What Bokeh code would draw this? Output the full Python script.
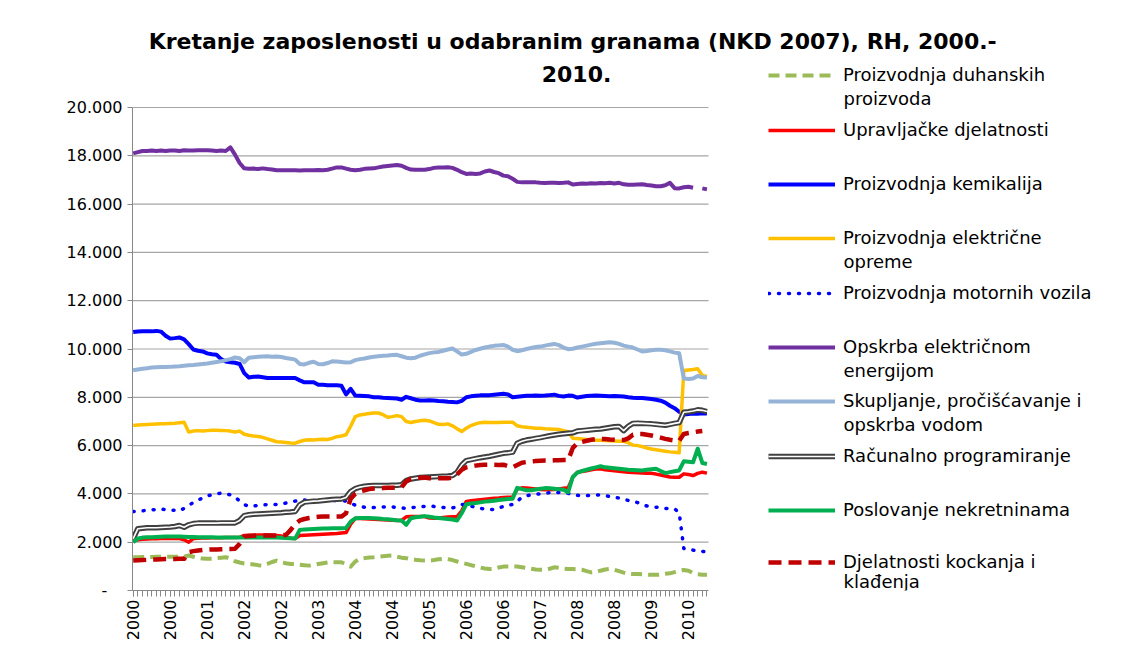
import math
import pandas as pd
from bokeh.plotting import figure
from bokeh.models import Range1d, FixedTicker, Legend, LegendItem, Label
from bokeh.embed import file_html
from bokeh.resources import INLINE

nan = float("nan")

# ---------------- data ----------------
months = pd.date_range("2000-01-01", periods=125, freq="MS")
x_idx = list(range(len(months)))
tick_pos = x_idx[::8]
tick_labels = {i: str(months[i].year) for i in tick_pos}

y_ticks = [0, 2000, 4000, 6000, 8000, 10000, 12000, 14000, 16000, 18000, 20000]
y_tick_labels = ["-\u00a0\u00a0\u00a0", "2.000", "4.000", "6.000", "8.000", "10.000",
                 "12.000", "14.000", "16.000", "18.000", "20.000"]

duhan = [1380, 1380, 1390, 1390, 1390, 1400, 1400, 1400, 1400, 1400,
         1400, 1400, 1450, 1400, 1350, 1320, 1310, 1320, 1340, 1360,
         1380, 1320, 1210, 1160, 1120, 1100, 1080, 1050, 1030, 1100,
         1180, 1240, 1170, 1130, 1100, 1100, 1070, 1050, 1030, 1060,
         1100, 1130, 1160, 1170, 1170, 1170, 1080, 990, 1200, 1310,
         1340, 1370, 1380, 1400, 1420, 1440, 1450, 1400, 1360, 1340,
         1300, 1270, 1250, 1240, 1240, 1260, 1290, 1310, 1300, 1260,
         1200, 1150, 1100, 1050, 1000, 950, 910, 890, 900, 950,
         990, 990, 990, 990, 960, 930, 900, 870, 860, 850,
         900, 960, 940, 910, 890, 890, 880, 860, 800, 750,
         760, 820, 870, 890, 860, 800, 740, 690, 680, 680,
         670, 660, 650, 650, 660, 690, 710, 760, 820, 850,
         820, 720, 670, 650, 650]

upravlj = [2070, 2100, 2120, 2130, 2140, 2140, 2150, 2150, 2150, 2150,
           2150, 2100, 2000, 2150, 2160, 2170, 2170, 2180, 2180, 2180,
           2190, 2190, 2190, 2200, 2280, 2290, 2290, 2300, 2300, 2300,
           2290, 2280, 2260, 2200, 2160, 2150, 2280, 2290, 2300, 2310,
           2320, 2330, 2340, 2350, 2360, 2380, 2400, 2750, 2990, 2980,
           2970, 2960, 2950, 2940, 2930, 2920, 2910, 2900, 2900, 3050,
           3060, 3060, 3060, 3060, 3000, 2990, 3000, 3020, 3040, 3050,
           3060, 3300, 3690, 3720, 3740, 3760, 3780, 3800, 3820, 3830,
           3850, 3860, 3870, 4200, 4250, 4240, 4220, 4200, 4180, 4170,
           4170, 4180, 4200, 4230, 4250, 4690, 4900, 4930, 4960, 5000,
           5030, 5040, 5000, 4980, 4960, 4940, 4920, 4900, 4890, 4880,
           4870, 4860, 4850, 4820, 4780, 4740, 4700, 4690, 4690, 4830,
           4800, 4760, 4850, 4900, 4860]

kemikal = [10700, 10720, 10730, 10730, 10730, 10750, 10720, 10550, 10430, 10450,
           10480, 10400, 10200, 9980, 9930, 9900, 9820, 9780, 9760, 9580,
           9480, 9450, 9430, 9380, 9000, 8820, 8850, 8860, 8830, 8800,
           8800, 8800, 8800, 8800, 8800, 8800, 8700, 8620, 8620, 8620,
           8520, 8520, 8500, 8500, 8500, 8480, 8120, 8350, 8070, 8060,
           8050, 8040, 8000, 8000, 7980, 7970, 7960, 7950, 7900, 8020,
           7960, 7900, 7870, 7870, 7880, 7870, 7850, 7840, 7820, 7810,
           7790, 7850, 8000, 8040, 8060, 8080, 8090, 8090, 8110, 8130,
           8150, 8120, 8000, 8020, 8040, 8060, 8060, 8070, 8060, 8070,
           8090, 8110, 8060, 8030, 8070, 8060, 7990, 8020, 8050, 8060,
           8070, 8060, 8050, 8040, 8050, 8040, 8030, 8000, 7980, 7970,
           7970, 7950, 7930, 7900, 7860, 7780, 7650, 7550, 7400, 7290,
           7310, 7330, 7320, 7340, 7330]

elektr = [6830, 6850, 6860, 6870, 6880, 6890, 6900, 6900, 6920, 6930,
          6950, 6970, 6560, 6600, 6620, 6600, 6620, 6640, 6640, 6630,
          6620, 6600, 6560, 6600, 6470, 6430, 6400, 6380, 6340, 6280,
          6220, 6160, 6150, 6130, 6110, 6100, 6170, 6220, 6240, 6230,
          6250, 6260, 6250, 6300, 6370, 6400, 6450, 6800, 7200, 7270,
          7300, 7330, 7350, 7350, 7280, 7170, 7200, 7240, 7200, 7000,
          6960, 7000, 7030, 7050, 7020, 6950, 6880, 6870, 6900, 6820,
          6700, 6580, 6720, 6830, 6900, 6950, 6970, 6960, 6960, 6960,
          6970, 6970, 6970, 6820, 6780, 6760, 6740, 6720, 6720, 6700,
          6690, 6680, 6670, 6620, 6580, 6300, 6290, 6270, 6250, 6230,
          6220, 6220, 6210, 6200, 6190, 6180, 6180, 6120, 6020, 6000,
          5960, 5900, 5860, 5830, 5800, 5770, 5740, 5720, 5700, 9110,
          9130, 9150, 9180, 8900, 8860]

motor = [3270, 3280, 3300, 3320, 3340, 3350, 3370, 3350, 3330, 3320,
         3300, 3400, 3520, 3650, 3740, 3830, 3920, 3960, 4000, 4030,
         4000, 3960, 3880, 3700, 3560, 3480, 3500, 3520, 3540, 3560,
         3560, 3560, 3580, 3620, 3660, 3700, 3740, 3750, 3720, 3700,
         3690, 3700, 3710, 3720, 3730, 3730, 3700, 3620, 3530, 3480,
         3450, 3420, 3440, 3450, 3460, 3470, 3460, 3440, 3420, 3400,
         3420, 3450, 3470, 3480, 3500, 3480, 3460, 3440, 3420, 3420,
         3460, 3560, 3560, 3500, 3440, 3400, 3370, 3350, 3350, 3420,
         3480, 3540, 3560, 3700, 3860, 3920, 3960, 3990, 4000, 4030,
         4050, 4070, 4060, 4040, 4020, 4000, 3940, 3930, 3930, 3940,
         3950, 3950, 3930, 3890, 3860, 3830, 3780, 3730, 3700, 3640,
         3560, 3500, 3470, 3450, 3420, 3400, 3390, 3380, 3230, 1740,
         1700, 1670, 1650, 1620, 1600]

opskrba_el = [18100, 18150, 18200, 18200, 18220, 18200, 18220, 18200, 18220, 18220,
              18200, 18230, 18220, 18220, 18230, 18230, 18230, 18220, 18200, 18220,
              18200, 18350, 18050, 17700, 17480, 17460, 17470, 17450, 17480, 17450,
              17430, 17400, 17400, 17400, 17400, 17400, 17390, 17400, 17400, 17400,
              17410, 17400, 17420, 17470, 17520, 17520, 17470, 17420, 17400, 17420,
              17460, 17470, 17480, 17520, 17560, 17580, 17600, 17620, 17590, 17500,
              17430, 17420, 17420, 17420, 17450, 17500, 17520, 17520, 17530, 17500,
              17420, 17320, 17250, 17270, 17250, 17270, 17350, 17390, 17330, 17280,
              17180, 17150, 17050, 16920, 16900, 16900, 16900, 16900, 16880, 16870,
              16880, 16880, 16870, 16880, 16900, 16810, 16830, 16850, 16840, 16860,
              16850, 16870, 16860, 16880, 16850, 16880, 16820, 16800, 16800, 16810,
              16820, 16790, 16770, 16740, 16740, 16780, 16880, 16660, 16650, 16700,
              16720, 16680, nan, 16650, 16610]

voda = [9120, 9150, 9180, 9200, 9230, 9240, 9250, 9250, 9260, 9280,
        9290, 9310, 9330, 9340, 9360, 9380, 9400, 9430, 9460, 9490,
        9540, 9580, 9650, 9620, 9450, 9640, 9660, 9680, 9690, 9700,
        9680, 9690, 9670, 9630, 9600, 9560, 9380, 9360, 9430, 9470,
        9380, 9370, 9420, 9490, 9480, 9460, 9440, 9450, 9540, 9580,
        9610, 9650, 9680, 9700, 9720, 9730, 9750, 9760, 9700, 9640,
        9620, 9640, 9720, 9780, 9830, 9860, 9880, 9930, 9980, 10020,
        9900, 9770, 9800, 9880, 9960, 10010, 10060, 10100, 10130, 10150,
        10170, 10100, 9970, 9910, 9950, 10000, 10040, 10080, 10100, 10140,
        10180, 10210, 10160, 10060, 9990, 10010, 10060, 10100, 10140, 10180,
        10220, 10240, 10260, 10280, 10260, 10210, 10140, 10100, 10060, 9980,
        9900, 9920, 9950, 9970, 9970, 9950, 9900, 9850, 9820, 8780,
        8760, 8780, 8880, 8830, 8820]

racunal = [2150, 2560, 2580, 2600, 2600, 2600, 2610, 2620, 2630, 2650,
           2690, 2620, 2720, 2770, 2790, 2790, 2790, 2790, 2790, 2800,
           2800, 2800, 2800, 2900, 3100, 3140, 3160, 3170, 3180, 3190,
           3200, 3210, 3220, 3240, 3250, 3270, 3550, 3660, 3680, 3700,
           3710, 3730, 3750, 3770, 3780, 3790, 3850, 4100, 4220, 4280,
           4320, 4340, 4350, 4350, 4350, 4350, 4360, 4360, 4380, 4550,
           4620, 4650, 4680, 4690, 4700, 4710, 4720, 4730, 4740, 4760,
           4900, 5200, 5380, 5420, 5460, 5500, 5530, 5560, 5600, 5640,
           5680, 5700, 5730, 6100, 6180, 6230, 6260, 6300, 6330, 6370,
           6410, 6440, 6470, 6490, 6510, 6530, 6600, 6620, 6640, 6660,
           6680, 6690, 6720, 6750, 6780, 6790, 6620, 6800, 6920, 6930,
           6920, 6910, 6900, 6880, 6860, 6840, 6880, 6920, 6950, 7380,
           7400, 7430, 7480, 7460, 7410]

nekretn = [2000, 2150, 2190, 2200, 2210, 2220, 2230, 2240, 2240, 2240,
           2240, 2230, 2220, 2220, 2210, 2210, 2200, 2200, 2190, 2190,
           2190, 2190, 2190, 2190, 2190, 2190, 2190, 2190, 2190, 2190,
           2190, 2190, 2180, 2170, 2160, 2150, 2510, 2530, 2540, 2550,
           2560, 2570, 2570, 2580, 2580, 2580, 2590, 2850, 2990, 3000,
           3000, 3000, 2990, 2980, 2960, 2950, 2930, 2910, 2900, 2720,
           2990, 3030, 3050, 3080, 3050, 3020, 3000, 2980, 2960, 2940,
           2900, 3200, 3570, 3600, 3620, 3650, 3680, 3700, 3720, 3750,
           3770, 3790, 3800, 4250, 4200, 4150, 4150, 4180, 4210, 4240,
           4230, 4210, 4190, 4170, 4070, 4700, 4880, 4950, 5000, 5050,
           5100, 5150, 5100, 5080, 5060, 5040, 5020, 5000, 4990, 4980,
           4970, 5000, 5020, 5040, 4950, 4860, 4900, 4940, 4970, 5350,
           5330, 5310, 5870, 5280, 5240]

kockanje = [1240, 1250, 1260, 1270, 1280, 1280, 1290, 1300, 1300, 1300,
            1310, 1310, 1590, 1630, 1660, 1680, 1690, 1700, 1700, 1710,
            1720, 1720, 1730, 1930, 2230, 2260, 2270, 2280, 2280, 2280,
            2280, 2280, 2290, 2300, 2500, 2750, 2900, 2960, 3000, 3030,
            3050, 3060, 3060, 3060, 3060, 3060, 3200, 3800, 4010, 4100,
            4150, 4200, 4220, 4230, 4240, 4250, 4250, 4250, 4270, 4520,
            4620, 4650, 4670, 4680, 4650, 4640, 4650, 4650, 4650, 4680,
            4800, 5000, 5100, 5140, 5170, 5200, 5210, 5210, 5210, 5200,
            5210, 5150, 5100, 5200, 5290, 5320, 5340, 5360, 5370, 5380,
            5380, 5390, 5390, 5400, 5400, 5900, 6100, 6150, 6200, 6240,
            6270, 6280, 6270, 6250, 6240, 6230, 6230, 6300, 6450, 6480,
            6480, 6450, 6420, 6380, 6330, 6280, 6240, 6210, 6200, 6480,
            6520, 6550, 6580, 6600, nan]

series_names = [
    "Proizvodnja duhanskih\nproizvoda",
    "Upravljačke djelatnosti",
    "Proizvodnja kemikalija",
    "Proizvodnja električne\nopreme",
    "Proizvodnja motornih vozila",
    "Opskrba električnom\nenergijom",
    "Skupljanje, pročišćavanje i\nopskrba vodom",
    "Računalno programiranje",
    "Poslovanje nekretninama",
    "Djelatnosti kockanja i\nklađenja",
]
series_values = [duhan, upravlj, kemikal, elektr, motor, opskrba_el, voda, racunal, nekretn, kockanje]
title_lines = ["Kretanje zaposlenosti u odabranim  granama (NKD 2007), RH, 2000.-", "2010."]

# ---------------- styles / layout ----------------
styles = [
    [dict(line_color="#9BBB59", line_width=4, line_dash="11 6")],
    [dict(line_color="#FF0000", line_width=3.5)],
    [dict(line_color="#0000FF", line_width=4)],
    [dict(line_color="#FFC000", line_width=3.5)],
    [dict(line_color="#0000FF", line_width=3.5, line_dash="1 9", line_cap="round")],
    [dict(line_color="#7030A0", line_width=4)],
    [dict(line_color="#95B3D7", line_width=4)],
    [dict(line_color="#404040", line_width=5.5), dict(line_color="#FFFFFF", line_width=1.6)],
    [dict(line_color="#00B050", line_width=4)],
    [dict(line_color="#C00000", line_width=4.5, line_dash="13 7")],
]
legend_line_y = [75, 130, 184, 238, 293, 347, 401, 456, 510, 562]  # page px centres
second_line_dy = [23, 0, 0, 23, 0, 23, 23, 0, 0, 19]

FONT = "DejaVu Sans"
W, H = 1120, 645
PX_PER_IDX = 4.627
PLOT_L, PLOT_T, PLOT_B = 132, 107, 590        # data area (0..20000) in page px
FRAME_T = 2
FRAME_L = PLOT_L
FRAME_R = W - 2
FB = PLOT_B                                     # frame bottom in page px
FRAME_W = FRAME_R - FRAME_L
px_per_val = (PLOT_B - PLOT_T) / 20000
x0 = -0.15
x_data_end = x0 + 576 / PX_PER_IDX

p = figure(width=W, height=H, output_backend="svg", toolbar_location=None,
           x_range=Range1d(x0, x0 + FRAME_W / PX_PER_IDX),
           y_range=Range1d(0, (PLOT_B - FRAME_T) / px_per_val),
           min_border_left=FRAME_L, min_border_top=FRAME_T,
           min_border_right=W - FRAME_R, min_border_bottom=H - FB)
p.background_fill_color = "white"
p.border_fill_color = "white"
p.outline_line_color = None
p.xgrid.visible = False
p.ygrid.visible = False

# horizontal gridlines limited to the data area
grid_vals = y_ticks[1:]
p.multi_line(xs=[[x0, x_data_end] for _ in grid_vals], ys=[[v, v] for v in grid_vals],
             line_color="#A6A6A6", line_width=1.2, level="underlay")

renderers = []
for vals, st in zip(series_values, styles):
    rs = []
    for s in st:
        kw = dict(line_join="round")
        kw.update(s)
        rs.append(p.line(x_idx, vals, **kw))
    renderers.append(rs)

# axes
p.xaxis.bounds = (x0, x_data_end)
p.xaxis.ticker = FixedTicker(ticks=tick_pos, minor_ticks=x_idx)
p.xaxis.major_label_overrides = tick_labels
p.xaxis.major_label_orientation = math.pi / 2
p.xaxis.major_label_text_font = FONT
p.xaxis.major_label_text_font_size = "16px"
p.xaxis.major_label_text_color = "#000000"
p.xaxis.axis_line_color = "#888888"
p.xaxis.major_tick_line_color = "#888888"
p.xaxis.minor_tick_line_color = "#888888"
p.xaxis.major_tick_out = 6
p.xaxis.major_tick_in = 0
p.xaxis.minor_tick_out = 6
p.xaxis.minor_tick_in = 0
p.xaxis.major_label_standoff = 3

p.yaxis.bounds = (0, 20000)
p.yaxis.ticker = FixedTicker(ticks=y_ticks)
p.yaxis.major_label_overrides = dict(zip(y_ticks, y_tick_labels))
p.yaxis.major_label_text_font = FONT
p.yaxis.major_label_text_font_size = "16px"
p.yaxis.major_label_text_color = "#000000"
p.yaxis.axis_line_color = "#888888"
p.yaxis.major_tick_line_color = "#888888"
p.yaxis.major_tick_out = 5
p.yaxis.major_tick_in = 0
p.yaxis.minor_tick_line_color = None
p.yaxis.major_label_standoff = 5


def scr(xpage, ypage):
    """page px -> screen units relative to the frame's bottom-left corner"""
    return xpage - FRAME_L, FB - ypage


# title (two centred lines)
for txt, yc in zip(title_lines, [41, 73]):
    sx, sy = scr(576, yc)
    p.add_layout(Label(x=sx, y=sy, x_units="screen", y_units="screen", text=txt,
                       text_align="center", text_baseline="middle",
                       text_font=FONT, text_font_size="22px", text_font_style="bold",
                       text_color="#000000"))

# legend: one legend per entry (first text line next to the sample), second line as a label
GH = 20
for name, rs, yc, dy in zip(series_names, renderers, legend_line_y, second_line_dy):
    lines = name.split("\n")
    fs = 18
    sx, sy = scr(768, yc + GH / 2)
    leg = Legend(items=[LegendItem(label=lines[0], renderers=rs)],
                 location=(sx, sy),
                 glyph_width=67, glyph_height=GH, label_height=GH,
                 label_standoff=8, padding=0, margin=0, spacing=0,
                 border_line_color=None, background_fill_alpha=0,
                 label_text_font=FONT, label_text_font_size=f"{fs}px",
                 label_text_color="#000000")
    p.add_layout(leg)
    for extra in lines[1:]:
        lx, ly = scr(843, yc + dy)
        p.add_layout(Label(x=lx, y=ly, x_units="screen", y_units="screen", text=extra,
                           text_align="left", text_baseline="middle",
                           text_font=FONT, text_font_size=f"{fs}px", text_color="#000000"))

open("out.html", "w").write(file_html(p, INLINE))
